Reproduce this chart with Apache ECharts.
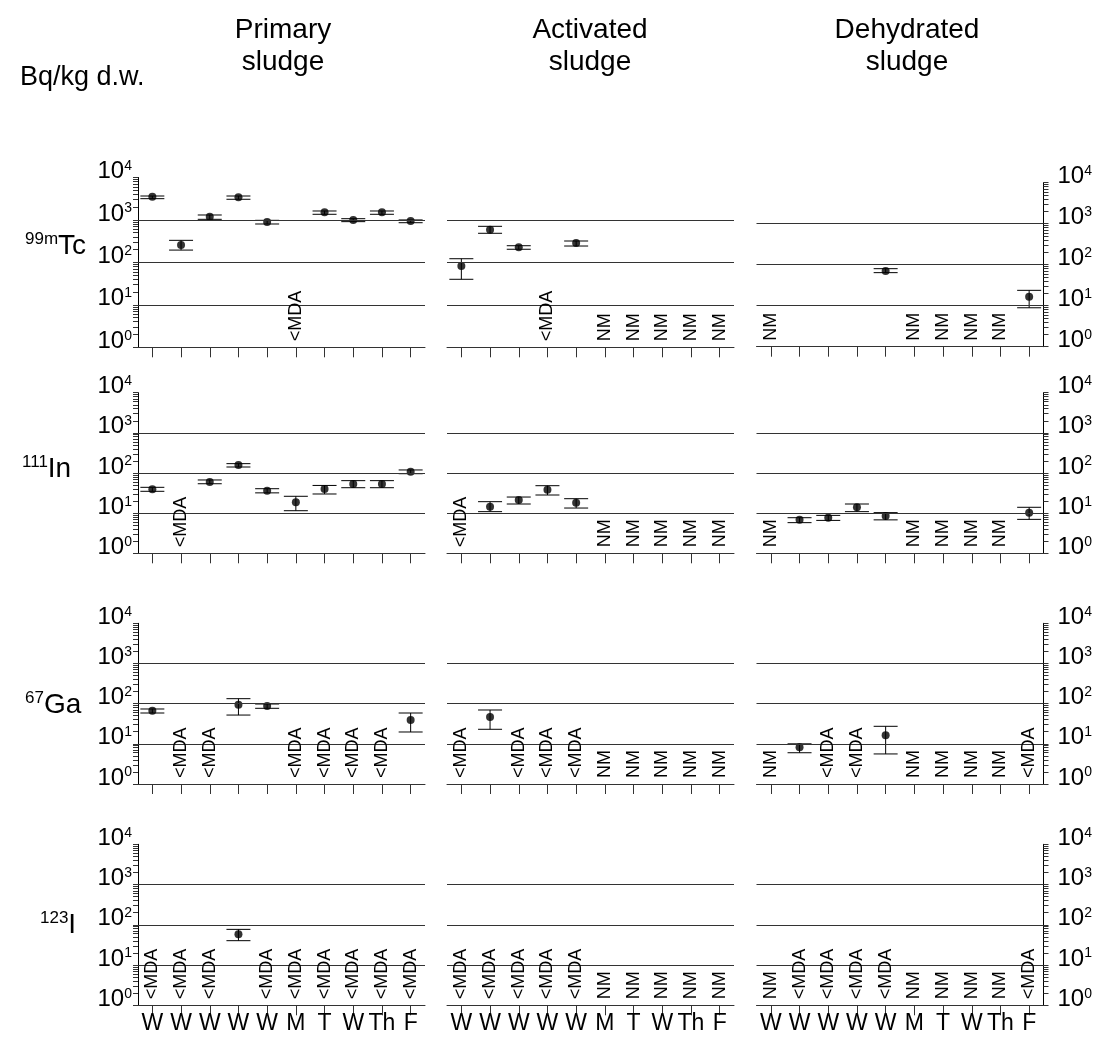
<!DOCTYPE html>
<html>
<head>
<meta charset="utf-8">
<script src="https://cdn.jsdelivr.net/npm/echarts@6/dist/echarts.min.js"></script>
<style>html,body{margin:0;padding:0;background:#fff;}#chart{width:1096px;height:1041px;}</style>
</head>
<body>
<div id="chart"></div>
<script>
// ---------------- DATA ----------------
const categories = ['W','W','W','W','W','M','T','W','Th','F'];
const sludgeTitles = ['Primary\nsludge', 'Activated\nsludge', 'Dehydrated\nsludge'];
const unitLabel = 'Bq/kg d.w.';
const isotopeSup = ['99m', '111', '67', '123'];
const isotopeEl = ['Tc', 'In', 'Ga', 'I'];
const yTickValues = [1, 10, 100, 1000, 10000];
const yGridValues = [10, 100, 1000];
const yMinorMultipliers = [2, 3, 4, 5, 6, 7, 8, 9];

// 99mTc
const tcPrimary     = [3530, 257, 1193, 3415, 895, null, 1514, 997, 1514, 945];
const tcPrimaryLo   = [3170, 195, 1035, 3070, 803, null, 1360, 912, 1360, 861];
const tcPrimaryHi   = [3665, 331, 1309, 3665, 980, null, 1625, 1070, 1625, 1000];
const tcPrimaryNote = ['', '', '', '', '', '<MDA', '', '', '', ''];

const tcActivated     = [82, 589, 227, null, 286, null, null, null, null, null];
const tcActivatedLo   = [40, 485, 204, null, 243, null, null, null, null, null];
const tcActivatedHi   = [122, 708, 247, null, 319, null, null, null, null, null];
const tcActivatedNote = ['', '', '', '<MDA', '', 'NM', 'NM', 'NM', 'NM', 'NM'];

const tcDehydrated     = [null, null, null, null, 70, null, null, null, null, 16.6];
const tcDehydratedLo   = [null, null, null, null, 64, null, null, null, null, 8.9];
const tcDehydratedHi   = [null, null, null, null, 80, null, null, null, null, 23.7];
const tcDehydratedNote = ['NM', '', '', '', '', 'NM', 'NM', 'NM', 'NM', ''];

// 111In
const inPrimary     = [39.3, null, 59.7, 158, 36, 18.6, 40, 53, 53, 108];
const inPrimaryLo   = [35, null, 54, 141, 32, 11.5, 30, 43, 43, 96];
const inPrimaryHi   = [44, null, 67, 171, 40.6, 26.3, 49, 64.5, 64.5, 119];
const inPrimaryNote = ['', '<MDA', '', '', '', '', '', '', '', ''];

const inActivated     = [null, 14.5, 21.3, 38.4, 18.2, null, null, null, null, null];
const inActivatedLo   = [null, 10.9, 16.9, 28.3, 13.4, null, null, null, null, null];
const inActivatedHi   = [null, 19.3, 25.2, 48.3, 22.9, null, null, null, null, null];
const inActivatedNote = ['<MDA', '', '', '', '', 'NM', 'NM', 'NM', 'NM', 'NM'];

const inDehydrated     = [null, 6.8, 7.7, 14, 8.5, null, null, null, null, 10.3];
const inDehydratedLo   = [null, 5.8, 6.6, 10.9, 6.8, null, null, null, null, 7];
const inDehydratedHi   = [null, 7.7, 8.8, 16.9, 10.3, null, null, null, null, 14];
const inDehydratedNote = ['NM', '', '', '', '', 'NM', 'NM', 'NM', 'NM', ''];

// 67Ga
const gaPrimary     = [66.8, null, null, 94, 87.5, null, null, null, null, 39.2];
const gaPrimaryLo   = [58.5, null, null, 52, 76.6, null, null, null, null, 19.7];
const gaPrimaryHi   = [73.6, null, null, 133, 98, null, null, null, null, 58.5];
const gaPrimaryNote = ['', '<MDA', '<MDA', '', '', '<MDA', '<MDA', '<MDA', '<MDA', ''];

const gaActivated     = [null, 46.5, null, null, null, null, null, null, null, null];
const gaActivatedLo   = [null, 23, null, null, null, null, null, null, null, null];
const gaActivatedHi   = [null, 69.5, null, null, null, null, null, null, null, null];
const gaActivatedNote = ['<MDA', '', '<MDA', '<MDA', '<MDA', 'NM', 'NM', 'NM', 'NM', 'NM'];

const gaDehydrated     = [null, 8.2, null, null, 16.3, null, null, null, null, null];
const gaDehydratedLo   = [null, 6.0, null, null, 5.6, null, null, null, null, null];
const gaDehydratedHi   = [null, 10, null, null, 27.3, null, null, null, null, null];
const gaDehydratedNote = ['NM', '', '<MDA', '<MDA', '', 'NM', 'NM', 'NM', 'NM', '<MDA'];

// 123I
const iPrimary     = [null, null, null, 58, null, null, null, null, null, null];
const iPrimaryLo   = [null, null, null, 40.3, null, null, null, null, null, null];
const iPrimaryHi   = [null, null, null, 77, null, null, null, null, null, null];
const iPrimaryNote = ['<MDA', '<MDA', '<MDA', '', '<MDA', '<MDA', '<MDA', '<MDA', '<MDA', '<MDA'];

const iActivated     = [null, null, null, null, null, null, null, null, null, null];
const iActivatedLo   = [null, null, null, null, null, null, null, null, null, null];
const iActivatedHi   = [null, null, null, null, null, null, null, null, null, null];
const iActivatedNote = ['<MDA', '<MDA', '<MDA', '<MDA', '<MDA', 'NM', 'NM', 'NM', 'NM', 'NM'];

const iDehydrated     = [null, null, null, null, null, null, null, null, null, null];
const iDehydratedLo   = [null, null, null, null, null, null, null, null, null, null];
const iDehydratedHi   = [null, null, null, null, null, null, null, null, null, null];
const iDehydratedNote = ['NM', '<MDA', '<MDA', '<MDA', '<MDA', 'NM', 'NM', 'NM', 'NM', '<MDA'];

const panelData = [
  [[tcPrimary, tcPrimaryLo, tcPrimaryHi, tcPrimaryNote], [tcActivated, tcActivatedLo, tcActivatedHi, tcActivatedNote], [tcDehydrated, tcDehydratedLo, tcDehydratedHi, tcDehydratedNote]],
  [[inPrimary, inPrimaryLo, inPrimaryHi, inPrimaryNote], [inActivated, inActivatedLo, inActivatedHi, inActivatedNote], [inDehydrated, inDehydratedLo, inDehydratedHi, inDehydratedNote]],
  [[gaPrimary, gaPrimaryLo, gaPrimaryHi, gaPrimaryNote], [gaActivated, gaActivatedLo, gaActivatedHi, gaActivatedNote], [gaDehydrated, gaDehydratedLo, gaDehydratedHi, gaDehydratedNote]],
  [[iPrimary, iPrimaryLo, iPrimaryHi, iPrimaryNote], [iActivated, iActivatedLo, iActivatedHi, iActivatedNote], [iDehydrated, iDehydratedLo, iDehydratedHi, iDehydratedNote]]
];

// ---------------- LAYOUT ----------------
const FONT = '"Liberation Sans", Arial, sans-serif';
const rowTop = [177.5, 392.7, 623.3, 844.3];
const rowBottom = [347.3, 553.3, 784, 1005.3];
const colLeft = [138, 447, 756.5];
const colWidth = 287;
const titleX = [283, 590, 907];
const isoPos = [[25, 246], [22, 469], [25, 705], [40, 925]];

const yAllTicks = [];
yTickValues.forEach((v, d) => {
  yAllTicks.push(v);
  if (d < yTickValues.length - 1) yMinorMultipliers.forEach(m => yAllTicks.push(m * v));
});

const grids = [], xAxes = [], yAxes = [], series = [];
for (let r = 0; r < 4; r++) {
  for (let c = 0; c < 3; c++) {
    const i = r * 3 + c;
    let top = rowTop[r], bottom = rowBottom[r];
    if (r === 0 && c === 2) { top = 182.7; bottom = 346.7; }
    grids.push({ left: colLeft[c], top: top, width: colWidth, height: bottom - top, containLabel: false });
    xAxes.push({
      gridIndex: i, type: 'category', data: categories, boundaryGap: true,
      axisLine: { show: true, lineStyle: { color: '#333', width: 1 } },
      axisTick: { show: true, alignWithLabel: true, length: 10, lineStyle: { color: '#333', width: 1 } },
      axisLabel: { show: r === 3, interval: 0, fontSize: 23, color: '#000', fontFamily: FONT, margin: 7 },
      splitLine: { show: false }
    });
    const showY = c !== 1;
    yAxes.push({
      gridIndex: i, type: 'log', logBase: 10, min: 1, max: 10000,
      position: c === 2 ? 'right' : 'left',
      axisLine: { show: showY, lineStyle: { color: '#000', width: 1 } },
      axisTick: { show: showY, customValues: yAllTicks, length: 5, inside: false, lineStyle: { color: '#333', width: 1 } },
      minorTick: { show: false },
      axisLabel: {
        show: showY, customValues: yTickValues, margin: c === 2 ? 14 : 6,
        padding: [0, 0, 12, 0],
        formatter: v => '{a|10}{b|' + Math.round(Math.log10(v)) + '}',
        rich: {
          a: { fontSize: 24, fontFamily: FONT, color: '#000', lineHeight: 25 },
          b: { fontSize: 14, fontFamily: FONT, color: '#000', verticalAlign: 'top', lineHeight: 14 }
        }
      },
      splitLine: { show: false }
    });

    const [vals, lo, hi, notes] = panelData[r][c];
    const errData = [];
    vals.forEach((v, k) => { if (v != null) errData.push([k, lo[k], hi[k]]); });
    series.push({
      type: 'custom', xAxisIndex: i, yAxisIndex: i, z: 3,
      encode: { x: 0, y: [1, 2] },
      data: errData,
      renderItem: function (params, api) {
        const x = api.value(0);
        const p1 = api.coord([x, api.value(1)]);
        const p2 = api.coord([x, api.value(2)]);
        const w = 12;
        const st = { stroke: '#000', lineWidth: 1 };
        return { type: 'group', children: [
          { type: 'line', shape: { x1: p1[0], y1: p1[1], x2: p2[0], y2: p2[1] }, style: st },
          { type: 'line', shape: { x1: p1[0] - w, y1: p1[1], x2: p1[0] + w, y2: p1[1] }, style: st },
          { type: 'line', shape: { x1: p2[0] - w, y1: p2[1], x2: p2[0] + w, y2: p2[1] }, style: st }
        ] };
      }
    });
    series.push({
      type: 'scatter', xAxisIndex: i, yAxisIndex: i, z: 4,
      symbol: 'circle', symbolSize: 8,
      itemStyle: { color: '#000' },
      data: vals.map(v => v == null ? '-' : v),
      markLine: {
        silent: true, symbol: ['none', 'none'], animation: false,
        label: { show: false },
        lineStyle: { type: 'solid', color: '#333', width: 1 },
        emphasis: { disabled: true },
        data: yGridValues.map(v => ({ yAxis: v }))
      }
    });
    const noteData = [];
    const noteText = [];
    notes.forEach((n, k) => { if (n) { noteData.push([k, 1]); noteText.push(n); } });
    series.push({
      type: 'custom', xAxisIndex: i, yAxisIndex: i, z: 5, clip: false,
      encode: { x: 0, y: 1 },
      data: noteData,
      renderItem: function (params, api) {
        const p = api.coord([api.value(0), 1]);
        return {
          type: 'text', x: p[0], y: p[1] - 6, rotation: Math.PI / 2,
          style: { text: noteText[params.dataIndex], fontSize: 18, fontFamily: FONT, fill: '#000', align: 'left', verticalAlign: 'middle' }
        };
      }
    });
  }
}

const graphics = [];
sludgeTitles.forEach((t, c) => {
  graphics.push({ type: 'text', x: titleX[c], y: 14, style: { text: t, fontSize: 28, fontFamily: FONT, fill: '#000', align: 'center', verticalAlign: 'top', lineHeight: 32 } });
});
graphics.push({ type: 'text', x: 20, y: 78, style: { text: unitLabel, fontSize: 27, fontFamily: FONT, fill: '#000', align: 'left', verticalAlign: 'middle' } });
isotopeSup.forEach((s, r) => {
  graphics.push({ type: 'text', x: isoPos[r][0], y: isoPos[r][1], style: {
    text: '{s|' + s + '}{m|' + isotopeEl[r] + '}', align: 'left', verticalAlign: 'middle',
    rich: {
      s: { fontSize: 17, fontFamily: FONT, fill: '#000', verticalAlign: 'top', lineHeight: 17 },
      m: { fontSize: 28, fontFamily: FONT, fill: '#000', lineHeight: 30 }
    }
  } });
});

const chart = echarts.init(document.getElementById('chart'), null, { renderer: 'canvas' });
chart.setOption({
  backgroundColor: '#fff',
  animation: false,
  grid: grids,
  xAxis: xAxes,
  yAxis: yAxes,
  series: series,
  graphic: graphics
});
</script>
</body>
</html>
